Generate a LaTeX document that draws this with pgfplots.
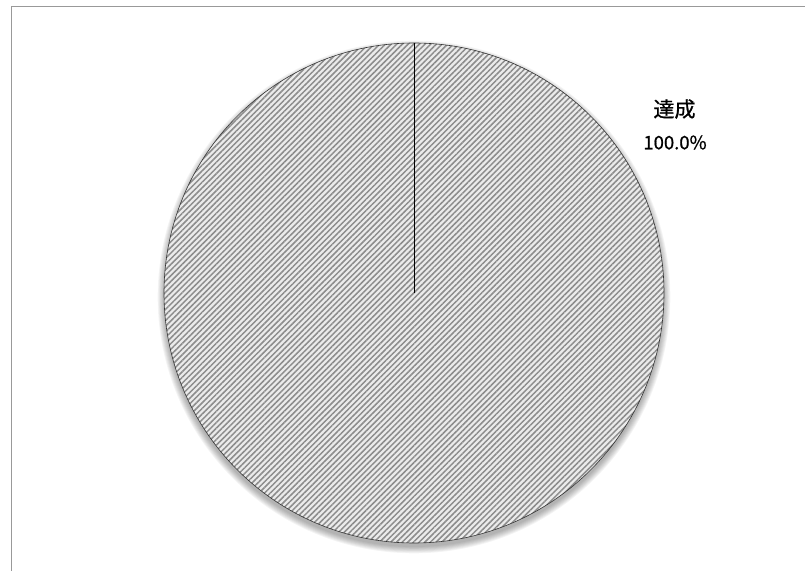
\documentclass[border=0pt]{standalone}
\usepackage{fontspec}
\setmainfont{Noto Sans CJK JP}
\newfontfamily\lbl[FakeBold=0.9]{Noto Sans CJK JP}
\usepackage{pgfplots}
\pgfplotsset{compat=1.18}
\usepackage{pgfplotstable}
\usetikzlibrary{patterns.meta}
\pgfplotstableread{
value
100
}\piedata
\pgfplotstablegetelem{0}{value}\of\piedata
\pgfmathsetmacro\ang{3.6*\pgfplotsretval}
\begin{document}
\begin{tikzpicture}
\begin{axis}[
  at={(0,0)}, anchor=origin,
  scale only axis, width=805bp, height=571bp,
  xmin=0, xmax=805, ymin=0, ymax=571,
  hide axis, clip=true]
% frame
\draw[gray!80, line width=0.8bp] (axis cs:11,0) -- (axis cs:11,565) -- (axis cs:805,565);
% shadow
\pgfplotsinvokeforeach{0,1,2,3,4,5,6,7}{
  \fill[black, opacity=0.045] (axis cs:414,274) circle[radius=250bp+#1*0.9bp];
}
% slice
\fill[white!92!black] (axis cs:414,278) -- (axis cs:414,528) arc[start angle=90, delta angle=-\ang, radius=250bp] -- cycle;
\fill[pattern={Lines[angle=45, distance=4bp, line width=1.5bp]}, pattern color=black!45] (axis cs:414,278) -- (axis cs:414,528) arc[start angle=90, delta angle=-\ang, radius=250bp] -- cycle;
\draw[black!80, line width=0.6bp] (axis cs:414,278) circle[radius=250bp];
\draw[black, line width=0.8bp] (axis cs:414,278) -- (axis cs:414,528);
% label
\node[font=\lbl\fontsize{21bp}{24bp}\selectfont] at (axis cs:674.5,462) {達成};
\node[font=\lbl\fontsize{18.5bp}{22bp}\selectfont] at (axis cs:675,428.5) {100.0\%};
\end{axis}
\useasboundingbox (0,0) rectangle (805bp,571bp);
\end{tikzpicture}
\end{document}
